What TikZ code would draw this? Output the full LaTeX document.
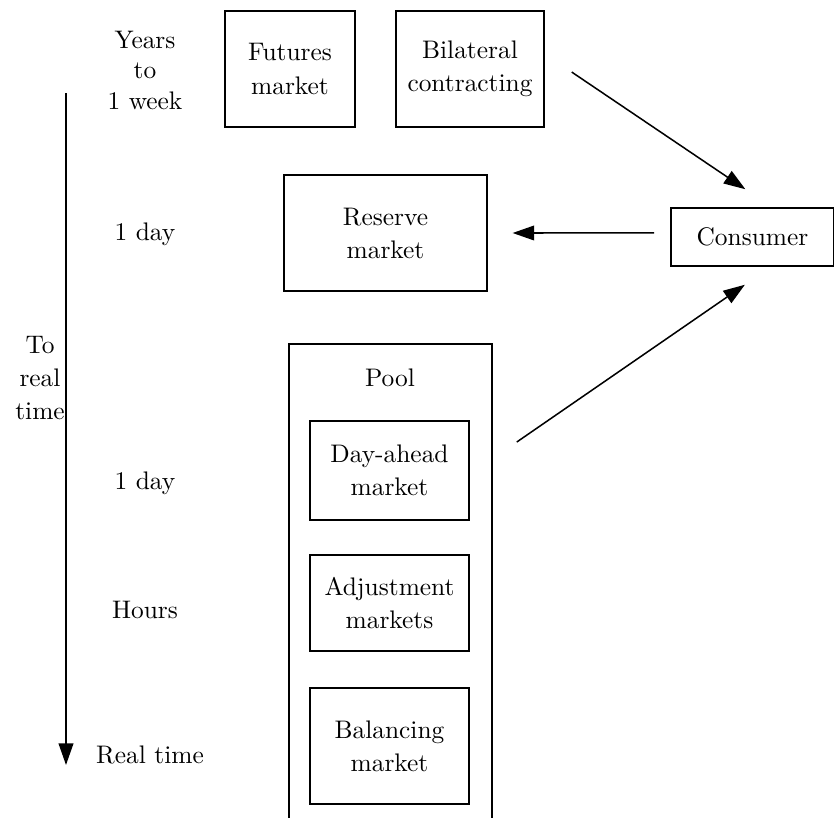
\documentclass[tikz,border=0pt]{standalone}
\usetikzlibrary{arrows.meta}
\begin{document}
\begin{tikzpicture}[x=0.3937pt, y=-0.3937pt,
  every node/.style={inner sep=0pt, align=center, font=\fontsize{10}{13}\selectfont},
  mbox/.style={draw, line width=0.6pt},
  tlabel/.style={},
  arr/.style={line width=0.6pt, -{Triangle[length=8.5pt, width=5.8pt]}}]
\useasboundingbox (0,0) rectangle (834,818);

% time axis
\coordinate (axtop) at (66,93);
\coordinate (axend) at (66,765);
\draw[arr] (axtop) -- (axend);
\node (toreal) at (40,378) {To\\real\\time};

% time labels
\node[font=\fontsize{10}{12}\selectfont] (years) at (145,70) {Years\\to\\1 week};
\node (day1) at (145,234) {1 day};
\node (day2) at (145,483) {1 day};
\node (hours) at (145,610) {Hours};
\node (rt) at (150,755) {Real time};

% forward markets
\node[mbox, minimum width=51.2pt, minimum height=45.7pt] (futures) at (290,69) {Futures\\market};
\node[mbox, minimum width=58.3pt, minimum height=45.7pt] (bilateral) at (470,69) {Bilateral\\contracting};
\node[mbox, minimum width=79.9pt, minimum height=45.7pt] (reserve) at (385.5,233) {Reserve\\market};
\node[mbox, minimum width=64.2pt, minimum height=22.8pt] (consumer) at (752.5,237) {Consumer};

% pool (open towards the bottom)
\draw[line width=0.6pt] (289,830) -- (289,344) -- (492,344) -- (492,830);
\node (pool) at (390,378) {Pool};
\node[mbox, minimum width=62.6pt, minimum height=39pt] (dayahead) at (389.5,470.5) {Day-ahead\\market};
\node[mbox, minimum width=62.6pt, minimum height=37.8pt] (adjust) at (389.5,603) {Adjustment\\markets};
\node[mbox, minimum width=62.6pt, minimum height=45.7pt] (balancing) at (389.5,746) {Balancing\\market};

% flows
\draw[arr] ([xshift=10.6pt, yshift=-1.2pt]bilateral.east) -- ([xshift=-2.8pt, yshift=7.1pt]consumer.north);
\draw[arr] ([xshift=-6.3pt, yshift=1.6pt]consumer.west) -- ([xshift=9.8pt]reserve.east);
\draw[arr] ([xshift=18.5pt, yshift=11.2pt]dayahead.east) -- ([xshift=-3pt, yshift=-7.1pt]consumer.south);
\end{tikzpicture}
\end{document}
